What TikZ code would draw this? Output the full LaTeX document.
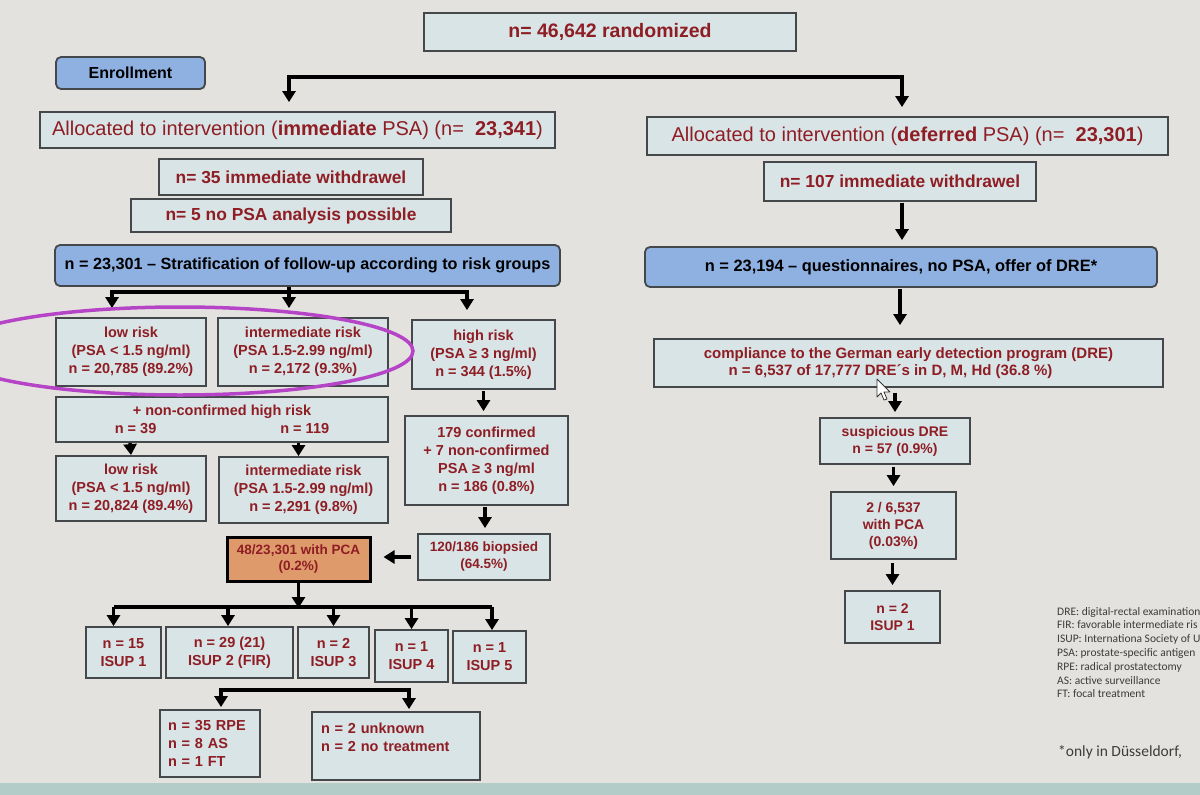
\documentclass[tikz,border=0pt]{standalone}
\usepackage{fontspec}
\setmainfont{Liberation Sans}
\newfontfamily\legfont{Carlito}
\usetikzlibrary{arrows.meta}
\definecolor{bg}{HTML}{E4E2DF}
\definecolor{boxfill}{HTML}{D9E4E6}
\definecolor{boxline}{HTML}{45484A}
\definecolor{txtred}{HTML}{8E1D24}
\definecolor{bluefill}{HTML}{8FB1E2}
\definecolor{orangefill}{HTML}{DF9A6B}
\definecolor{lilac}{HTML}{B544C6}
\definecolor{legtext}{HTML}{3C3C3C}
\definecolor{strip}{HTML}{B3CCC8}
\begin{document}
\begin{tikzpicture}[x=1pt,y=-1pt,
  box/.style={draw=boxline, fill=boxfill, line width=1.8pt, text=txtred,
    font=\fontsize{14.5}{18}\selectfont\bfseries, align=center, inner sep=2pt},
  bluebox/.style={box, fill=bluefill, rounded corners=5pt, text=black},
  sz/.style 2 args={minimum width=#1pt, minimum height=#2pt},
  big/.style={font=\fontsize{17.4}{20}\selectfont\bfseries},
  alloc/.style={font=\fontsize{20}{22}\selectfont},
  rcol/.style={font=\fontsize{14}{17}\selectfont\bfseries},
  conn/.style={line width=3.4pt, black},
  arr/.style={conn, -{Triangle[length=11pt,width=13pt]}},
  legend/.style={text=legtext, inner sep=0pt, align=left}
]
\useasboundingbox (0,0) rectangle (1200,795);
\clip (0,0) rectangle (1200,795);
\fill[bg] (0,0) rectangle (1200,795);
\fill[strip] (0,783) rectangle (1200,795);

% top
\node[box, sz={372}{38}, font=\fontsize{19.5}{22}\selectfont\bfseries] (top) at (610,32) {n= 46,642 randomized};
\node[bluebox, sz={149}{32}, font=\fontsize{16}{18}\selectfont\bfseries] (enr) at (130.5,73) {Enrollment};

% left column
\node[box, sz={515}{36}, alloc] (allocL) at (297.5,130) {Allocated to intervention (\textbf{immediate} PSA) (n=\ \ \textbf{23,341})};
\node[box, sz={264}{36}, big] (wdL) at (291,177) {n= 35 immediate withdrawel};
\node[box, sz={320}{33}, big] (nopsa) at (291,215.5) {n= 5 no PSA analysis possible};
\node[bluebox, sz={505}{41}, font=\fontsize{16.2}{18}\selectfont\bfseries] (strat) at (307.5,265.5) {n = 23,301 -- Stratification of follow-up according to risk groups};

\node[box, sz={150}{68}] (low1) at (131,352) {low risk\\(PSA < 1.5 ng/ml)\\n = 20,785 (89.2\%)};
\node[box, sz={170}{68}] (int1) at (303,352) {intermediate risk\\(PSA 1.5-2.99 ng/ml)\\n = 2,172 (9.3\%)};
\node[box, sz={143}{69}] (high) at (483.5,354.5) {high risk\\(PSA ≥ 3 ng/ml)\\n = 344 (1.5\%)};
\node[box, sz={332}{45}] (nonc) at (222,419.5) {+ non-confirmed high risk\\n = 39\hspace{124pt}n = 119};
\node[box, sz={163}{89}] (conf) at (486.5,460.5) {179 confirmed\\+ 7 non-confirmed\\PSA ≥ 3 ng/ml\\n = 186 (0.8\%)};
\node[box, sz={150}{65}] (low2) at (131,488.5) {low risk\\(PSA < 1.5 ng/ml)\\n = 20,824 (89.4\%)};
\node[box, sz={169}{66}] (int2) at (303.5,490) {intermediate risk\\(PSA 1.5-2.99 ng/ml)\\n = 2,291 (9.8\%)};
\node[box, sz={132}{46}, font=\fontsize{13.5}{17}\selectfont\bfseries] (biop) at (484,557) {120/186 biopsied\\(64.5\%)};
\node[box, fill=orangefill, draw=black, line width=3pt, sz={143}{44}, font=\fontsize{13.5}{16}\selectfont\bfseries] (pcaL) at (298.5,559) {48/23,301 with PCA\\(0.2\%)};

\node[box, sz={75}{51}] (i1) at (123.5,652.5) {n = 15\\ISUP 1};
\node[box, sz={127}{51}] (i2) at (229.5,652.5) {n = 29 (21)\\ISUP 2 (FIR)};
\node[box, sz={71}{51}] (i3) at (333.5,652.5) {n = 2\\ISUP 3};
\node[box, sz={73}{52}] (i4) at (411.5,656) {n = 1\\ISUP 4};
\node[box, sz={73}{52}] (i5) at (489.5,657) {n = 1\\ISUP 5};
\node[box, sz={100}{67}, align=left, text width=84pt] (rpe) at (210,743.5) {n = 35 RPE\\n = 8 AS\\n = 1 FT};
\node[box, sz={168}{68}, align=left, text width=150pt] (unk) at (396,746) {n = 2 unknown\\n = 2 no treatment\\\mbox{}};

% right column
\node[box, sz={521}{38}, alloc] (allocR) at (907.5,136) {Allocated to intervention (\textbf{deferred} PSA) (n=\ \ \textbf{23,301})};
\node[box, sz={272}{39}, big] (wdR) at (900,181.5) {n= 107 immediate withdrawel};
\node[bluebox, sz={512}{40}, font=\fontsize{16.4}{18}\selectfont\bfseries] (quest) at (901,267) {n = 23,194 -- questionnaires, no PSA, offer of DRE*};
\node[box, sz={509}{48}, font=\fontsize{15}{17}\selectfont\bfseries] (comp) at (908.5,363) {compliance to the German early detection program (DRE)\\n = 6,537 of 17,777 DRE´s in D, M, Hd (36.8 \%)\hspace*{36pt}};
\node[box, sz={150}{46}, rcol] (susp) at (895,441) {suspicious DRE\\n = 57 (0.9\%)};
\node[box, sz={125}{67}, rcol] (pcaR) at (893.5,525.5) {2 / 6,537\\with PCA\\(0.03\%)};
\node[box, sz={95}{52}, rcol] (isupR) at (892.5,617) {n = 2\\ISUP 1};

% legend
\node[legend, anchor=north west, font=\legfont\fontsize{11.5}{13.8}\selectfont] (leg) at (1057,607) {DRE: digital-rectal examination\\FIR: favorable intermediate ris\\ISUP: Internationa Society of U\\PSA: prostate-specific antigen\\RPE: radical prostatectomy\\AS: active surveillance\\FT: focal treatment};
\node[legend, anchor=west, font=\legfont\fontsize{15.5}{18}\selectfont] (foot) at (1058,752) {*only in Düsseldorf,};

% connectors
\coordinate (split) at (606,77);
\draw[arr, shorten >=9pt] (split) -| ([xshift=-8.5pt]allocL.north);
\draw[arr, shorten >=9pt] (split) -| ([xshift=-5.5pt]allocR.north);

\draw[arr, shorten <=1pt, shorten >=6pt] ([xshift=2pt]wdR.south) -- ([xshift=1pt]quest.north);
\draw[arr, shorten <=1pt, shorten >=13pt] ([xshift=-1pt]quest.south) -- ([xshift=-1pt]quest.south |- comp.north);
\draw[arr, shorten <=5pt, shorten >=5pt] (comp.south -| susp.north) -- (susp.north);
\draw[arr, shorten <=2pt, shorten >=5pt] (susp.south -| pcaR.north) -- (pcaR.north);
\draw[arr, shorten <=3pt, shorten >=5pt] (pcaR.south -| isupR.north) -- (isupR.north);

\coordinate (b1) at (289,292);
\draw[conn] (strat.south -| b1) -- (b1);
\draw[arr, shorten >=9pt] (b1) -| ([xshift=-19pt]low1.north);
\draw[arr, shorten >=9pt] (b1) -| ([xshift=-14pt]int1.north);
\draw[arr, shorten >=9pt] (b1) -| ([xshift=-16.5pt]high.north);

\draw[arr, shorten <=1pt, shorten >=4pt] (high.south) -- (high.south |- conf.north);
\draw[arr, shorten <=1pt, shorten >=5pt] ([xshift=-1.5pt]conf.south) -- ([xshift=-1.5pt]conf.south |- biop.north);
\draw[arr, shorten <=6pt, shorten >=12pt] (biop.west) -- (biop.west -| pcaL.east);
\draw[arr] ([xshift=-1pt]nonc.south -| low2.north) -- (low2.north);
\draw[arr] ([xshift=-5pt]nonc.south -| int2.north) -- ([xshift=-5pt]int2.north);

\coordinate (b2) at (298.5,607);
\draw[arr, shorten >=-1pt] (pcaL.south) -- (b2);
\draw[conn] ([xshift=-10pt]i1.north |- b2) -- ([xshift=2.5pt]i5.north |- b2);
\draw[arr] ([xshift=-10pt]i1.north |- b2) -- ([xshift=-10pt]i1.north);
\draw[arr] ([xshift=-1.5pt]i2.north |- b2) -- ([xshift=-1.5pt]i2.north);
\draw[arr] (i3.north |- b2) -- (i3.north);
\draw[arr] (i4.north |- b2) -- (i4.north);
\draw[arr] ([xshift=2.5pt]i5.north |- b2) -- ([xshift=2.5pt]i5.north);

\coordinate (b3) at (229.5,690);
\draw[arr, shorten >=2pt] (b3) -| ([xshift=11pt]rpe.north);
\draw[arr, shorten >=2pt] (b3) -| ([xshift=13pt]unk.north);

% highlight ellipse
\draw[lilac, line width=3.5pt] (180,351) ellipse [x radius=233pt, y radius=44pt];

% mouse pointer
\draw[fill=white, draw=black!80, line width=0.8pt, line join=round]
  (877,379) -- (877,397) -- (881,393) -- (884,400) -- (887,399) -- (884,392) -- (890,392) -- cycle;
\end{tikzpicture}
\end{document}
